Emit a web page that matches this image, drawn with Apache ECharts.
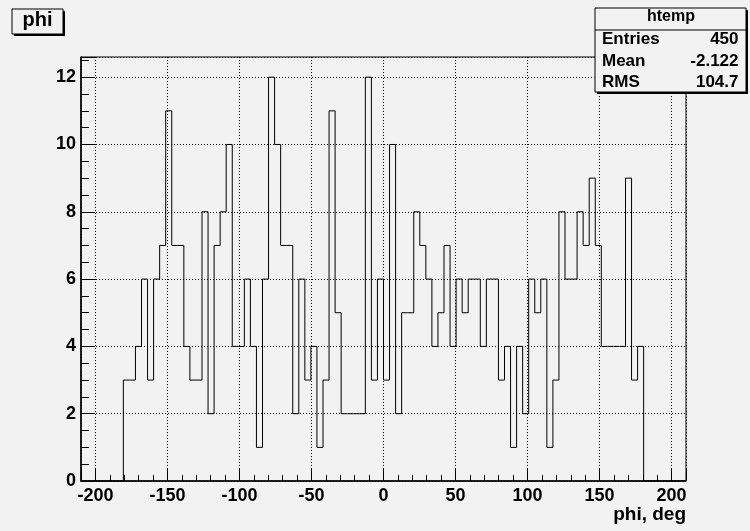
<!DOCTYPE html>
<html>
<head>
<meta charset="utf-8">
<script src="https://cdn.jsdelivr.net/npm/echarts@6/dist/echarts.min.js"></script>
<style>
html,body{margin:0;padding:0;background:#f2f2f2;}
#c{width:750px;height:531px;}
</style>
</head>
<body>
<div id="c"></div>
<script>
// Histogram "phi" : 100 bins from -210 to 210
var xMin = -210, xMax = 210, nBins = 100;
var counts = [
  0,0,0,0,0,0,0,
  3,3,4,6,3,6,7,11,7,7,4,3,3,8,2,7,8,10,4,4,6,4,1,6,12,10,
  7,7,2,6,3,4,1,3,11,5,2,2,2,2,12,3,6,3,10,2,5,5,8,7,6,4,5,7,4,6,
  5,6,6,4,6,6,3,4,1,4,2,6,5,6,1,3,8,6,6,8,7,9,7,4,4,4,4,9,3,4,
  0,0,0,0,0,0,0
];
var yMax = 12.6;
var statsTitle = 'htemp';
var statsLabels = ['Entries', 'Mean', 'RMS'];
var statsValues = ['450', '-2.122', '104.7'];
var histTitle = 'phi';
var xTitle = 'phi, deg';

var binW = (xMax - xMin) / nBins;
var stepData = [];
for (var i = 0; i < counts.length; i++) {
  stepData.push([xMin + i * binW, counts[i]]);
}
stepData.push([xMax, 0]);

var FONT = '"Liberation Sans", Arial, sans-serif';
var chart = echarts.init(document.getElementById('c'), null, {renderer: 'canvas'});

var bg = '#f2f2f2';
var graphics = [
  // title box
  {type: 'rect', shape: {x: 14, y: 11, width: 51, height: 25}, style: {fill: '#000'}, z: 100},
  {type: 'rect', shape: {x: 12, y: 9, width: 51, height: 25}, style: {fill: bg, stroke: '#000', lineWidth: 1}, z: 101},
  {type: 'text', x: 37.5, y: 20, style: {text: histTitle, font: 'bold 20px ' + FONT, fill: '#000', align: 'center', verticalAlign: 'middle'}, z: 102},
  // stats box
  {type: 'rect', shape: {x: 597, y: 10, width: 151, height: 84}, style: {fill: '#000'}, z: 100},
  {type: 'rect', shape: {x: 595, y: 8, width: 151, height: 84}, style: {fill: bg, stroke: '#000', lineWidth: 1}, z: 101},
  {type: 'line', shape: {x1: 595, y1: 30, x2: 746, y2: 30}, style: {stroke: '#000', lineWidth: 1}, z: 102},
  {type: 'text', x: 671, y: 17, style: {text: statsTitle, font: 'bold 16px ' + FONT, fill: '#000', align: 'center', verticalAlign: 'middle'}, z: 102},
  // x axis title
  {type: 'text', x: 686, y: 514.5, style: {text: xTitle, font: 'bold 19px ' + FONT, fill: '#000', align: 'right', verticalAlign: 'middle'}, z: 102}
];
var rowY = [39.8, 61.5, 82.3];
for (var r = 0; r < statsLabels.length; r++) {
  graphics.push({type: 'text', x: 602, y: rowY[r], style: {text: statsLabels[r], font: 'bold 17px ' + FONT, fill: '#000', align: 'left', verticalAlign: 'middle'}, z: 102});
  graphics.push({type: 'text', x: 738.5, y: rowY[r], style: {text: statsValues[r], font: 'bold 17px ' + FONT, fill: '#000', align: 'right', verticalAlign: 'middle'}, z: 102});
}

var option = {
  backgroundColor: bg,
  animation: false,
  grid: {left: 81, right: 64, top: 57, bottom: 50, show: true, borderColor: '#000', borderWidth: 1, backgroundColor: 'transparent'},
  xAxis: {
    type: 'value', min: xMin, max: xMax, splitNumber: 8, minInterval: 50, maxInterval: 50,
    axisLine: {show: true, onZero: false, lineStyle: {color: '#000', width: 1.5}},
    axisTick: {show: true, inside: true, length: 12, lineStyle: {color: '#000', width: 1}},
    minorTick: {show: true, splitNumber: 5, length: 6, lineStyle: {color: '#000', width: 1}},
    axisLabel: {show: true, margin: 6, color: '#000', fontFamily: FONT, fontWeight: 'bold', fontSize: 18, showMinLabel: false, showMaxLabel: false},
    splitLine: {show: true, lineStyle: {color: '#000', width: 1, type: [1, 2]}}
  },
  yAxis: {
    type: 'value', min: 0, max: yMax, splitNumber: 6, minInterval: 2, maxInterval: 2,
    axisLine: {show: true, onZero: false, lineStyle: {color: '#000', width: 1.5}},
    axisTick: {show: true, inside: true, length: 14, lineStyle: {color: '#000', width: 1}},
    minorTick: {show: true, splitNumber: 4, length: 8, lineStyle: {color: '#000', width: 1}},
    axisLabel: {show: true, margin: 5, color: '#000', fontFamily: FONT, fontWeight: 'bold', fontSize: 18, showMaxLabel: false},
    splitLine: {show: true, lineStyle: {color: '#000', width: 1, type: [1, 2]}}
  },
  series: [{
    type: 'line', step: 'end', data: stepData, showSymbol: false, symbol: 'none',
    lineStyle: {color: '#000', width: 1}, clip: false, z: 5
  }],
  graphic: graphics
};
chart.setOption(option);
</script>
</body>
</html>
